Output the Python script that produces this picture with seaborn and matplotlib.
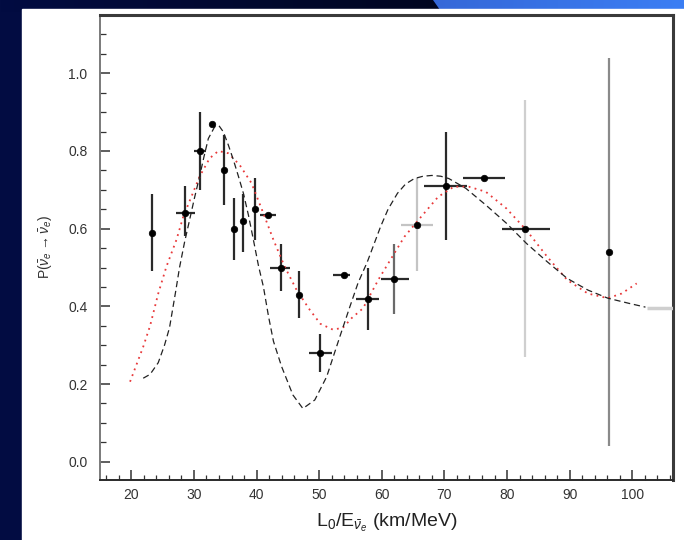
import numpy as np
import pandas as pd
import matplotlib
matplotlib.use("Agg")
import matplotlib.pyplot as plt
from matplotlib.patches import Rectangle, Polygon
from matplotlib.ticker import MultipleLocator
import seaborn as sns

# ---------------- data ----------------
x_pts = [23.3, 28.6, 30.9, 32.9, 34.8, 36.4, 37.9, 39.8, 41.9, 43.9,
         46.8, 50.2, 53.9, 57.8, 62.0, 65.6, 70.2, 76.3, 82.8, 96.3]
y_pts = [0.59, 0.64, 0.80, 0.87, 0.75, 0.60, 0.62, 0.65, 0.635, 0.50,
         0.43, 0.28, 0.48, 0.42, 0.47, 0.61, 0.71, 0.73, 0.60, 0.54]
y_low = [0.49, 0.58, 0.70, 0.865, 0.66, 0.52, 0.54, 0.57, 0.63, 0.44,
         0.37, 0.23, 0.475, 0.34, 0.38, 0.49, 0.57, 0.725, 0.27, 0.04]
y_high = [0.69, 0.71, 0.90, 0.875, 0.84, 0.68, 0.69, 0.73, 0.64, 0.56,
          0.49, 0.33, 0.485, 0.50, 0.56, 0.73, 0.85, 0.735, 0.93, 1.04]
x_low = [23.0, 27.1, 30.0, 32.5, 34.5, 36.1, 37.5, 39.5, 40.6, 42.1,
         46.4, 48.4, 52.2, 55.9, 59.9, 63.0, 66.8, 73.0, 79.2, 96.0]
x_high = [23.6, 30.1, 32.0, 33.3, 35.1, 36.7, 38.2, 40.2, 43.1, 45.3,
          47.2, 52.0, 54.9, 59.6, 64.3, 68.1, 73.6, 79.6, 86.8, 96.6]

# bin partly outside the plotted range (only its x-bar is visible)
edge_x, edge_y, edge_xlow, edge_xhigh = [110.0], [0.397], [102.4], [117.6]

# best-fit curve (black dashed)
fit_x = [21.9, 23.0, 24.3, 25.3, 26.1, 27.1, 27.7, 28.5, 29.3, 30.1, 30.9,
         31.6, 32.3, 33.3, 34.0, 34.7, 35.5, 36.3, 37.1, 37.9, 38.7, 39.5,
         40.3, 41.1, 41.9, 42.7, 44.0, 45.8, 47.4, 49.3, 51.2, 53.3, 54.9,
         56.2, 57.7, 59.8, 61.0, 62.5, 63.8, 65.2, 66.6, 68.0, 69.4, 70.7,
         73.4, 76.6, 79.9, 83.1, 86.4, 89.6, 92.9, 96.1, 99.4, 102.1]
fit_y = [0.215, 0.225, 0.255, 0.300, 0.345, 0.440, 0.500, 0.565, 0.622, 0.680,
         0.734, 0.785, 0.832, 0.862, 0.865, 0.849, 0.815, 0.777, 0.735, 0.691,
         0.635, 0.571, 0.505, 0.450, 0.375, 0.310, 0.245, 0.172, 0.137, 0.159,
         0.219, 0.322, 0.399, 0.460, 0.515, 0.605, 0.650, 0.691, 0.715, 0.729,
         0.735, 0.737, 0.735, 0.729, 0.704, 0.661, 0.614, 0.562, 0.515, 0.472,
         0.442, 0.421, 0.408, 0.398]

# alternative curve (red dotted)
alt_x = [19.8, 21.9, 23.0, 24.3, 25.6, 27.2, 28.3, 30.9, 32.5, 33.9, 35.5,
         37.3, 39.2, 41.1, 42.7, 44.5, 46.4, 48.5, 50.2, 52.2, 53.8, 55.2,
         57.0, 59.5, 63.6, 66.3, 69.0, 71.5, 73.9, 76.6, 79.9, 83.1, 86.4,
         89.6, 92.9, 96.1, 98.3, 100.7]
alt_y = [0.206, 0.296, 0.350, 0.433, 0.502, 0.571, 0.631, 0.734, 0.781, 0.800,
         0.794, 0.764, 0.717, 0.639, 0.571, 0.502, 0.442, 0.391, 0.355, 0.340,
         0.345, 0.370, 0.395, 0.470, 0.579, 0.631, 0.682, 0.708, 0.708, 0.695,
         0.652, 0.596, 0.528, 0.468, 0.433, 0.421, 0.433, 0.459]

x_ticks = [20, 30, 40, 50, 60, 70, 80, 90, 100]
y_ticks = [0.0, 0.2, 0.4, 0.6, 0.8, 1.0]

# styles (per-point error bar colours)
ycol = ['#2a2a2a'] * 20
xcol = ['#2a2a2a'] * 20
ycol[14] = '#6a6a6a'
ycol[15] = '#c4c4c4'
xcol[15] = '#c4c4c4'
ycol[18] = '#cfcfcf'
ycol[19] = '#8a8a8a'

# ---------------- figure ----------------
sns.set_theme(style="white")
plt.rcParams['font.family'] = ['Liberation Sans', 'DejaVu Sans']
plt.rcParams['mathtext.fontset'] = 'custom'
plt.rcParams['mathtext.rm'] = 'Liberation Sans'
plt.rcParams['mathtext.it'] = 'Liberation Sans:italic'

W, H = 684, 540
fig = plt.figure(figsize=(W / 100, H / 100), dpi=100)

# background (navy frame, white slide panel, blue header band)
bg = fig.add_axes([0, 0, 1, 1], zorder=-10)
bg.set_xlim(0, W)
bg.set_ylim(H, 0)
bg.axis('off')
grad = np.linspace(0, 1, 256)[None, :]
navy = np.array([[2 / 255, 12 / 255, 66 / 255]])
dark = np.array([[0 / 255, 6 / 255, 32 / 255]])
img = navy[:, None, :] * (1 - grad[..., None]) + dark[:, None, :] * grad[..., None]
bg.imshow(img, extent=[0, 440, 12, 0], aspect='auto', zorder=0)
bg.add_patch(Rectangle((0, 12), W, H, color='#020c42', zorder=0))
blue = np.array([[53 / 255, 104 / 255, 216 / 255]])
blue2 = np.array([[59 / 255, 126 / 255, 244 / 255]])
img2 = blue[:, None, :] * (1 - grad[..., None]) + blue2[:, None, :] * grad[..., None]
im2 = bg.imshow(img2, extent=[433, W, 10, 0], aspect='auto', zorder=1)
clip = Polygon([[433, 0], [W, 0], [W, 10], [440, 10]], closed=True,
               transform=bg.transData)
im2.set_clip_path(clip)
bg.add_patch(Rectangle((22, 9), W - 22, H - 9, color='white', zorder=2))

ax = fig.add_axes([100 / W, 60 / H, 573 / W, 465 / H])
ax.set_facecolor('white')

# error bars
for i in range(len(x_pts)):
    ax.errorbar([x_pts[i]], [y_pts[i]],
                yerr=[[y_pts[i] - y_low[i]], [y_high[i] - y_pts[i]]],
                fmt='none', ecolor=ycol[i], elinewidth=1.6, capsize=0, zorder=3)
    ax.errorbar([x_pts[i]], [y_pts[i]],
                xerr=[[x_pts[i] - x_low[i]], [x_high[i] - x_pts[i]]],
                fmt='none', ecolor=xcol[i], elinewidth=1.6, capsize=0, zorder=3)
ax.errorbar(edge_x, edge_y,
            xerr=[[edge_x[0] - edge_xlow[0]], [edge_xhigh[0] - edge_x[0]]],
            fmt='none', ecolor='#cfcfcf', elinewidth=2.5, capsize=0, zorder=3)

# curves
fit_df = pd.DataFrame({'x': fit_x, 'y': fit_y})
alt_df = pd.DataFrame({'x': alt_x, 'y': alt_y})
sns.lineplot(data=alt_df, x='x', y='y', ax=ax, color='#e8393a',
             linestyle=(0, (1.0, 2.4)), linewidth=1.3, zorder=4)
sns.lineplot(data=fit_df, x='x', y='y', ax=ax, color='#222222',
             linestyle=(0, (5, 3)), linewidth=0.9, zorder=4)

# points
pts_df = pd.DataFrame({'x': x_pts, 'y': y_pts})
sns.scatterplot(data=pts_df, x='x', y='y', ax=ax, color='black', s=22,
                edgecolor='black', linewidth=0.5, zorder=5)

# axes formatting
ax.set_xlim(15.0, 106.5)
ax.set_ylim(-0.047, 1.15)
ax.set_xticks(x_ticks)
ax.set_yticks(y_ticks)
ax.set_xticklabels([str(t) for t in x_ticks])
ax.set_yticklabels([f"{t:.1f}" for t in y_ticks])
ax.xaxis.set_minor_locator(MultipleLocator(2))
ax.yaxis.set_minor_locator(MultipleLocator(0.05))
ax.tick_params(axis='both', which='both', direction='in', top=False, right=False,
               bottom=True, left=True, colors='#333333', labelcolor='#333333',
               labelsize=10)
ax.tick_params(axis='x', which='major', length=7, width=1.1, pad=6)
ax.tick_params(axis='x', which='minor', length=3.5, width=0.9)
ax.tick_params(axis='y', which='major', length=7, width=1.1, pad=9)
ax.tick_params(axis='y', which='minor', length=4, width=0.9)

for side in ['top', 'right']:
    ax.spines[side].set_linewidth(2.2)
    ax.spines[side].set_color('#3a3a3a')
ax.spines['left'].set_linewidth(1.4)
ax.spines['left'].set_color('#7a7a7a')
ax.spines['bottom'].set_linewidth(1.4)
ax.spines['bottom'].set_color('#2a2a2a')

ax.set_xlabel(r'L$_0$/E$_{\bar{\nu}_e}$ (km/MeV)', fontsize=14, color='#222222',
              labelpad=7)
ax.set_ylabel(r'P($\bar{\nu}_e\rightarrow\bar{\nu}_e$)', fontsize=10,
              color='#333333', labelpad=10)

fig.savefig('out.png', dpi=100, facecolor='#020c42')
